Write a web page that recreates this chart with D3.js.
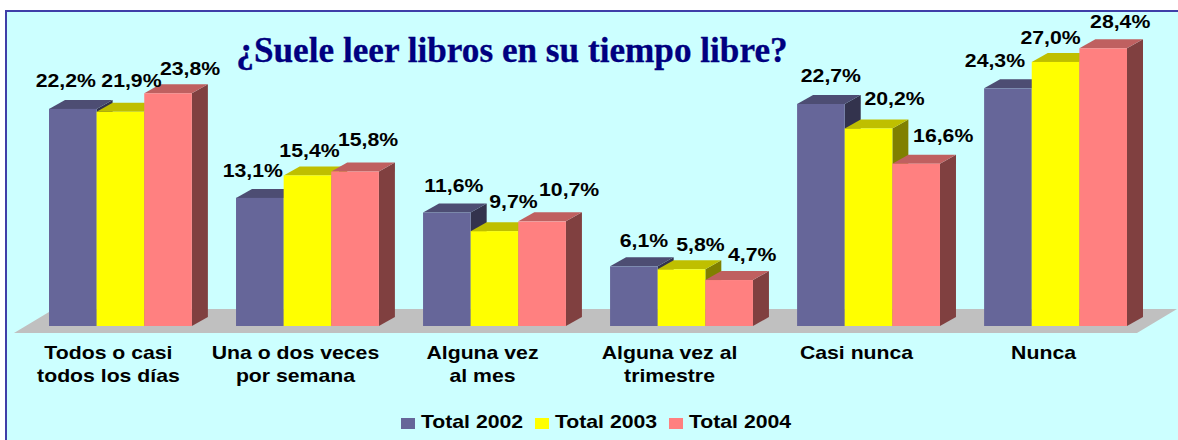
<!DOCTYPE html>
<html lang="es">
<head>
<meta charset="utf-8">
<title>¿Suele leer libros en su tiempo libre?</title>
<script src="https://cdn.jsdelivr.net/npm/d3@7"></script>
<style>
  html, body { margin: 0; background: #fff; }
  svg { display: block; }
  text { font-family: "Liberation Sans", Arial, sans-serif; font-weight: 700; fill: #000; }
</style>
</head>
<body>
<div id="chart"></div>
<script>
const categories = [
  ["Todos o casi", "todos los días"],
  ["Una o dos veces", "por semana"],
  ["Alguna vez", "al mes"],
  ["Alguna vez al", "trimestre"],
  ["Casi nunca"],
  ["Nunca"]
]
const seriesNames = ["Total 2002", "Total 2003", "Total 2004"]
const total2002 = [22.2, 13.1, 11.6, 6.1, 22.7, 24.3]
const total2003 = [21.9, 15.4, 9.7, 5.8, 20.2, 27.0]
const total2004 = [23.8, 15.8, 10.7, 4.7, 16.6, 28.4]
const seriesValues = [total2002, total2003, total2004]

// Hand placed value labels: offset from the top centre of each bar
const labelOffsets = [
  [[-7, -22], [11, -25], [22, -18]],
  [[-7, -21], [2, -18], [13, -25]],
  [[7, -21], [19, -23], [27, -25]],
  [[10, -19], [19, -18], [23, -19]],
  [[10, -22], [26, -23], [27, -22]],
  [[-13, -21], [-5, -18], [17, -20]]
]

const COLORS = [
  { front: "#666699", top: "#4d4d73", side: "#33334d" },
  { front: "#ffff00", top: "#bfbf00", side: "#808000" },
  { front: "#ff8080", top: "#bf6060", side: "#804040" }
]
const DEPTH = { x: 16, y: 9 }
const STRETCH = 1.18 // the original text is wider than the font

const width = 1178, height = 440
const baseY = 326

const svg = d3.select("#chart").append("svg")
  .attr("width", width)
  .attr("height", height)

// Panel
svg.append("rect")
  .attr("x", 6).attr("y", 11)
  .attr("width", width + 10).attr("height", height + 10)
  .attr("fill", "#ccffff")
  .attr("stroke", "#3f3fa8")
  .attr("stroke-width", 2)

// Floor
svg.append("polygon")
  .attr("points", "14,333 1137,333 1177,309 54,309")
  .attr("fill", "#c0c0c0")

svg.append("text")
  .attr("x", 512)
  .attr("y", 62)
  .attr("text-anchor", "middle")
  .style("font-family", '"Liberation Serif", "Times New Roman", serif')
  .style("font-size", "35.2px")
  .style("fill", "#000080")
  .style("stroke", "#000080")
  .style("stroke-width", 0.3)
  .text("¿Suele leer libros en su tiempo libre?")

const x = d3.scaleBand()
  .domain(d3.range(categories.length))
  .range([49, 1127])
  .paddingInner(0.236)

const xSeries = d3.scaleBand()
  .domain(d3.range(seriesNames.length))
  .range([0, x.bandwidth()])

const y = d3.scaleLinear()
  .domain([0, 30])
  .range([baseY, baseY - 293.4])

function stretched(sel, tx, ty) {
  return sel
    .attr("text-anchor", "middle")
    .attr("transform", (d, i) => `translate(${tx(d, i)},${ty(d, i)}) scale(${STRETCH},1)`)
    .style("font-size", "18px")
}

const groups = svg.selectAll(".group")
  .data(categories)
  .join("g")
  .attr("class", "group")
  .attr("transform", (d, i) => `translate(${x(i)},0)`)

const bars = groups.selectAll(".bar")
  .data((d, i) => seriesValues.map((values, s) => ({ group: i, series: s, value: values[i] })))
  .join("g")
  .attr("class", "bar")

bars.append("polygon")
  .attr("fill", d => COLORS[d.series].side)
  .attr("points", d => {
    const r = xSeries(d.series) + xSeries.bandwidth(), t = y(d.value)
    return [[r, t], [r + DEPTH.x, t - DEPTH.y], [r + DEPTH.x, baseY - DEPTH.y], [r, baseY]].join(" ")
  })

bars.append("polygon")
  .attr("fill", d => COLORS[d.series].top)
  .attr("points", d => {
    const l = xSeries(d.series), r = l + xSeries.bandwidth(), t = y(d.value)
    return [[l, t], [l + DEPTH.x, t - DEPTH.y], [r + DEPTH.x, t - DEPTH.y], [r, t]].join(" ")
  })

bars.append("rect")
  .attr("x", d => xSeries(d.series))
  .attr("y", d => y(d.value))
  .attr("width", xSeries.bandwidth())
  .attr("height", d => baseY - y(d.value))
  .attr("fill", d => COLORS[d.series].front)

// Value labels go on top of every bar
const labels = seriesValues.flatMap((values, s) =>
  values.map((value, i) => ({ group: i, series: s, value })))

svg.selectAll(".value-label")
  .data(labels)
  .join("text")
  .attr("class", "value-label")
  .call(stretched,
    d => x(d.group) + xSeries(d.series) + xSeries.bandwidth() / 2 + labelOffsets[d.group][d.series][0],
    d => y(d.value) + labelOffsets[d.group][d.series][1])
  .text(d => d.value.toFixed(1).replace(".", ",") + "%")

// Category labels
const catLabels = svg.selectAll(".cat-label")
  .data(categories)
  .join("g")
  .attr("class", "cat-label")
  .attr("transform", (d, i) => `translate(${x(i) + x.bandwidth() / 2 - 12},0)`)

catLabels.selectAll("text")
  .data(d => d)
  .join("text")
  .call(stretched, () => 0, (d, i) => 359 + i * 23)
  .text(d => d)

// Legend
const legendX = d3.scalePoint()
  .domain(seriesNames)
  .range([401, 669])

const legend = svg.selectAll(".legend-item")
  .data(seriesNames)
  .join("g")
  .attr("class", "legend-item")
  .attr("transform", d => `translate(${legendX(d)},0)`)

legend.append("rect")
  .attr("y", 418)
  .attr("width", 14)
  .attr("height", 11)
  .attr("fill", (d, i) => COLORS[i].front)

legend.append("text")
  .call(stretched, () => 71, () => 428)
  .text(d => d)
</script>
</body>
</html>
